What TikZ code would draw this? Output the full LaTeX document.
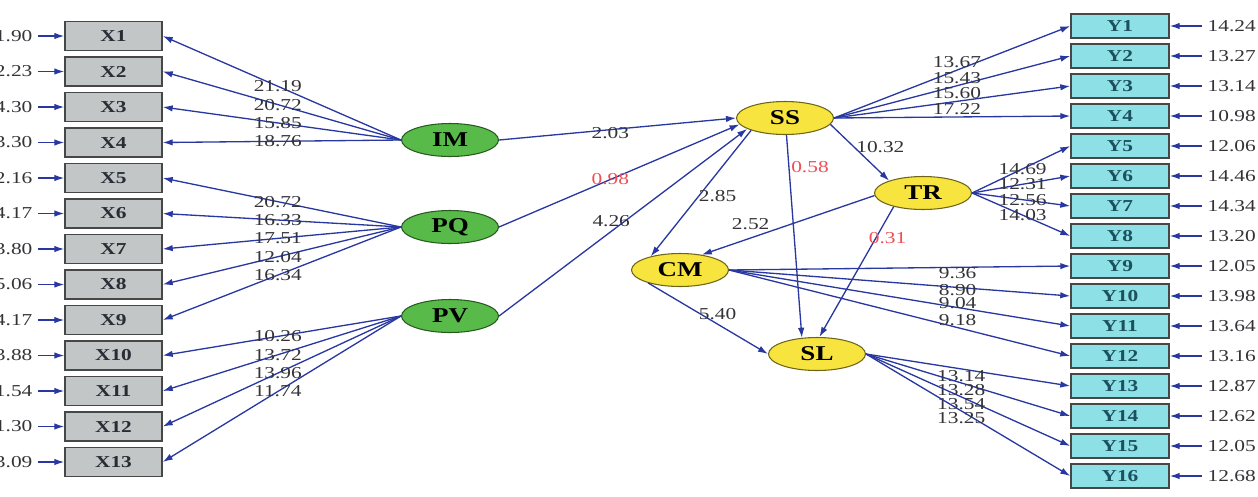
\documentclass[tikz,border=0pt]{standalone}
\usepackage{fontspec}
\setmainfont[FakeStretch=1.28]{Liberation Serif}
\usetikzlibrary{arrows.meta,shapes.geometric}

\definecolor{edgeblue}{RGB}{40,56,160}
\definecolor{boxline}{RGB}{70,72,72}
\definecolor{xfill}{RGB}{194,198,198}
\definecolor{yfill}{RGB}{140,224,230}
\definecolor{xtext}{RGB}{40,44,52}
\definecolor{ytext}{RGB}{28,80,92}
\definecolor{greenfill}{RGB}{88,186,72}
\definecolor{greenline}{RGB}{40,90,32}
\definecolor{yellowfill}{RGB}{248,228,62}
\definecolor{yellowline}{RGB}{110,100,24}
\definecolor{numgray}{RGB}{52,52,56}
\definecolor{numred}{RGB}{240,78,84}

\begin{document}
\begin{tikzpicture}[
  font=\fontsize{9.5}{11}\selectfont,
  xbox/.style={draw=boxline, line width=0.8pt, fill=xfill, minimum width=1.94cm, minimum height=0.58cm,
    inner sep=0pt, font=\fontsize{9.5}{11}\selectfont\bfseries, text=xtext},
  ybox/.style={draw=boxline, line width=0.8pt, fill=yfill, minimum width=1.96cm, minimum height=0.48cm,
    inner sep=0pt, font=\fontsize{9.5}{11}\selectfont\bfseries, text=ytext},
  exo/.style={ellipse, draw=greenline, line width=0.6pt, fill=greenfill, minimum width=1.94cm,
    minimum height=0.66cm, inner sep=0pt, font=\fontsize{12}{14}\selectfont\bfseries},
  endo/.style={exo, draw=yellowline, fill=yellowfill},
  lab/.style={text=numgray, inner sep=1pt},
  redlab/.style={lab, text=numred},
  err/.style={text=numgray, inner sep=3pt},
  arr/.style={-{Latex[length=2mm,width=1.3mm]}, draw=edgeblue, line width=0.75pt}
]
\useasboundingbox (0,0) rectangle (25.16,-9.92);

% ---------- Indicators X1--X13 with error terms ----------
\foreach \i/\e in {1/1.90,2/2.23,3/4.30,4/3.30,5/2.16,6/4.17,7/3.80,8/5.06,9/4.17,10/3.88,11/1.54,12/1.30,13/3.09} {
  \node[xbox] (X\i) at (2.27,{-0.72-0.71*(\i-1)}) {X\i};
  \node[err, anchor=east] (ex\i) at (0.76,{-0.72-0.71*(\i-1)}) {\e};
  \draw[arr] (ex\i.east) -- (X\i.west);
}

% ---------- Indicators Y1--Y16 with error terms ----------
\foreach \j/\e in {1/14.24,2/13.27,3/13.14,4/10.98,5/12.06,6/14.46,7/14.34,8/13.20,9/12.05,10/13.98,11/13.64,12/13.16,13/12.87,14/12.62,15/12.05,16/12.68} {
  \node[ybox] (Y\j) at (22.40,{-0.52-0.60*(\j-1)}) {Y\j};
  \node[err, anchor=west] (ey\j) at (24.04,{-0.52-0.60*(\j-1)}) {\e};
  \draw[arr] (ey\j.west) -- (Y\j.east);
}

% ---------- Latent variables ----------
\node[exo] (IM) at (9.00,-2.80) {IM};
\node[exo] (PQ) at (9.00,-4.54) {PQ};
\node[exo] (PV) at (9.00,-6.32) {PV};
\node[endo] (SS) at (15.70,-2.36) {SS};
\node[endo] (TR) at (18.46,-3.86) {TR};
\node[endo] (CM) at (13.60,-5.40) {CM};
\node[endo] (SL) at (16.34,-7.08) {SL};

% ---------- Loadings ----------
\foreach \i/\v in {1/21.19,2/20.72,3/15.85,4/18.76}
  \draw[arr] (IM.west) -- node[lab, pos=0.517]{\v} (X\i.east);
\foreach \i/\v in {5/20.72,6/16.33,7/17.51,8/12.04,9/16.34}
  \draw[arr] (PQ.west) -- node[lab, pos=0.517]{\v} (X\i.east);
\foreach \i/\v in {10/10.26,11/13.72,12/13.96,13/11.74}
  \draw[arr] (PV.west) -- node[lab, pos=0.517]{\v} (X\i.east);
\foreach \j/\v in {1/13.67,2/15.43,3/15.60,4/17.22}
  \draw[arr] (SS.east) -- node[lab, pos=0.52, yshift=0.16cm]{\v} (Y\j.west);
\foreach \j/\v in {5/14.69,6/12.31,7/12.56,8/14.03}
  \draw[arr] (TR.east) -- node[lab, pos=0.515]{\v} (Y\j.west);
\foreach \j/\v/\s in {9/9.36/-0.11,10/8.90/-0.05,11/9.04/0.08,12/9.18/0.15}
  \draw[arr] (CM.east) -- node[lab, pos=0.67, yshift=\s cm]{\v} (Y\j.west);
\foreach \j/\v in {13/13.14,14/13.28,15/13.54,16/13.25}
  \draw[arr] (SL.east) -- node[lab, pos=0.466, yshift=-0.14cm]{\v} (Y\j.west);

% ---------- Structural paths ----------
\draw[arr] (IM.east) -- node[lab, pos=0.47, yshift=-0.06cm]{2.03} (SS.west);
\draw[arr] (PQ.east) -- node[redlab, pos=0.463]{0.98} (SS.188);
\draw[arr] (PV.east) -- node[lab, pos=0.452, yshift=0.2cm]{4.26} (SS.196);
\draw[arr] (SS.200) -- node[lab, pos=0.523, xshift=0.38cm]{2.85} (CM.155);
\draw[arr] (TR.183) -- node[lab, pos=0.717, yshift=0.28cm]{2.52} (CM.35);
\draw[arr] (SS.352) -- node[lab, pos=0.4, right]{10.32} (TR.160);
\draw[arr] (SS.275) -- node[redlab, pos=0.156, right]{0.58} (SL.133);
\draw[arr] (TR.205) -- node[redlab, pos=0.244, xshift=0.24cm]{0.31} (SL.82);
\draw[arr] (CM.202) -- node[lab, pos=0.58, yshift=0.2cm]{5.40} (SL.west);
\end{tikzpicture}
\end{document}
